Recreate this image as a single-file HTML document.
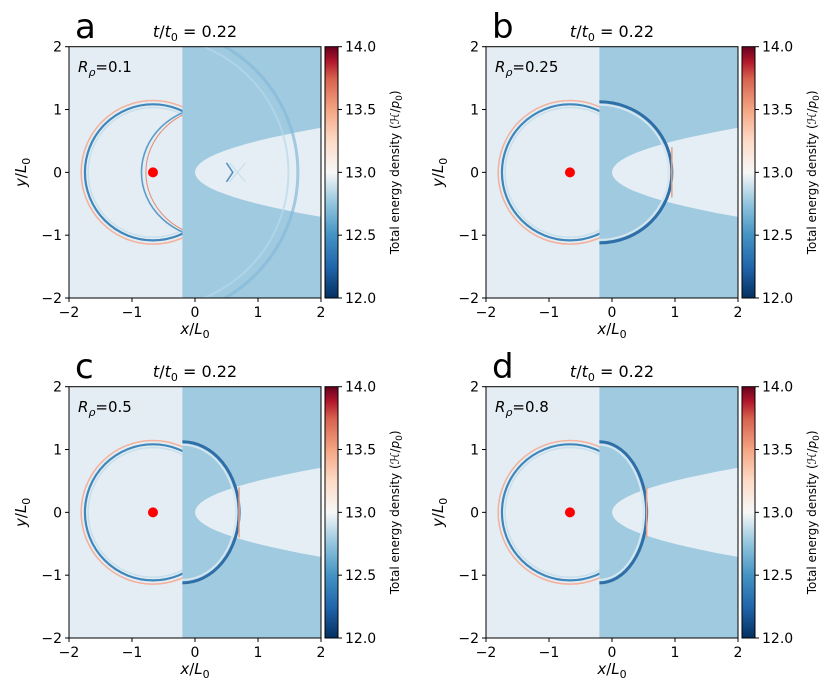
<!DOCTYPE html>
<html><head><meta charset="utf-8"><style>
html,body{margin:0;padding:0;background:#fff;width:830px;height:700px;overflow:hidden}
svg text{font-family:"DejaVu Sans","Liberation Sans",sans-serif;fill:#000}
</style></head><body>
<svg id="fig" width="830" height="700" viewBox="0 0 830 700" xmlns="http://www.w3.org/2000/svg">
<defs>
<linearGradient id="cmap" x1="0" y1="1" x2="0" y2="0">
<stop offset="0" stop-color="#053061"/><stop offset="0.125" stop-color="#2166ac"/>
<stop offset="0.25" stop-color="#4393c3"/><stop offset="0.375" stop-color="#92c5de"/>
<stop offset="0.5" stop-color="#f7f7f7"/><stop offset="0.625" stop-color="#fddbc7"/>
<stop offset="0.75" stop-color="#f4a582"/><stop offset="0.875" stop-color="#d6604d"/>
<stop offset="0.94" stop-color="#b2182b"/><stop offset="1" stop-color="#67001f"/>
</linearGradient>
</defs>
</svg>
<script>
const panelLetters=['a','b','c','d'];
const rhoValues=['0.1','0.25','0.5','0.8'];
const transmitX=[null,0.95,0.7,0.55];
const timeLabel='0.22';
const axisTicks=[-2,-1,0,1,2];
const cbTicks=['12.0','12.5','13.0','13.5','14.0'];
const cbMin=12, cbMax=14;
const sourceX=-0.667, interfaceX=-0.2, parabolaTipX=0.0, parabolaHalfWidthAtEdge=0.71;
const offsets=[[0,0],[417,0],[0,340],[417,340]];
const NS='http://www.w3.org/2000/svg';
const svg=document.getElementById('fig');
function mk(tag,attrs,parent){const e=document.createElementNS(NS,tag);for(const k in attrs)e.setAttribute(k,attrs[k]);(parent||svg).appendChild(e);return e;}
const L=69,R=321,T=46.7,B=298;
const X=x=>L+(x+2)*(R-L)/4, Y=y=>T+(2-y)*(B-T)/4, S=r=>r*(R-L)/4;
panelLetters.forEach((letter,i)=>{
  const [dx,dy]=offsets[i];
  const g=mk('g',{transform:`translate(${dx},${dy})`});
  
  
  const cid='clip'+i;
  const cp=mk('clipPath',{id:cid},g);mk('rect',{x:L,y:T,width:R-L,height:B-T},cp);
  const cpr=mk('clipPath',{id:cid+'r'},g);mk('rect',{x:X(interfaceX),y:T,width:R-X(interfaceX),height:B-T},cpr);
  const cpl=mk('clipPath',{id:cid+'l'},g);mk('rect',{x:L,y:T,width:X(interfaceX)-L,height:B-T},cpl);
  const plot=mk('g',{'clip-path':`url(#${cid})`},g);
  
  
  mk('rect',{x:L,y:T,width:R-L,height:B-T,fill:'#e3edf3'},plot);
  mk('rect',{x:X(interfaceX),y:T,width:R-X(interfaceX),height:B-T,fill:'#9fcae0'},plot);
  const k=(2-parabolaTipX)/(parabolaHalfWidthAtEdge**2);
  let d='';for(let y=-1.2;y<=1.2;y+=0.05){const x=parabolaTipX+k*y*y;d+=(d?'L':'M')+X(x).toFixed(1)+','+Y(y).toFixed(1);}
  const p=mk('path',{d,fill:'#e4eef4'},plot);
  
  
  const cx=X(sourceX),cy=Y(0);
  const left=mk('g',{'clip-path':`url(#${cid}l)`},plot);
  mk('circle',{cx,cy,r:S(1.14),fill:'none',stroke:'#f4b09a','stroke-width':1.5},left);
  mk('circle',{cx,cy,r:S(1.08),fill:'none',stroke:'#3f86bb','stroke-width':2.2},left);
  mk('circle',{cx,cy,r:S(1.03),fill:'none',stroke:'#c8dfec','stroke-width':1.5},left);
  const right=mk('g',{'clip-path':`url(#${cid}r)`},plot);
  if(transmitX[i]===null){
    mk('ellipse',{cx:X(0.3),cy,rx:S(1.15),ry:S(1.05),fill:'none',stroke:'#5b9dc9','stroke-width':1.6},left);
    mk('ellipse',{cx:X(0.32),cy,rx:S(1.1),ry:S(1.03),fill:'none',stroke:'#e58a70','stroke-width':1},left);
    mk('circle',{cx,cy,r:S(2.3),fill:'none',stroke:'#86b9d8','stroke-width':3,opacity:0.7},right);
    mk('circle',{cx,cy,r:S(2.15),fill:'none',stroke:'#b8d8ea','stroke-width':2,opacity:0.7},right);
    mk('path',{d:`M${X(0.5)},${Y(0.15)}L${X(0.6)},${Y(0)}L${X(0.5)},${Y(-0.15)}`,fill:'none',stroke:'#4d8fc0','stroke-width':1.5},plot);
    mk('path',{d:`M${X(0.55)},${Y(0.15)}L${X(0.8)},${Y(-0.15)}M${X(0.55)},${Y(-0.15)}L${X(0.8)},${Y(0.15)}`,fill:'none',stroke:'#c5dcea','stroke-width':1},plot);
  } else {
    const tx=transmitX[i];
    mk('ellipse',{cx:X(interfaceX),cy,rx:S(tx-interfaceX),ry:S(1.12),fill:'none',stroke:'#2f6fa8','stroke-width':3},right);
    mk('ellipse',{cx:X(interfaceX),cy,rx:S(tx-interfaceX)-3,ry:S(1.12)-3,fill:'none',stroke:'#d4e6f0','stroke-width':2},right);
    mk('line',{x1:X(tx),y1:Y(0.4),x2:X(tx),y2:Y(-0.4),stroke:'#e8a088','stroke-width':1.5},plot);
  }
  const dot=mk('circle',{cx,cy,r:5,fill:'#ff0000'},g);
  
  
  mk('rect',{x:L,y:T,width:R-L,height:B-T,fill:'none',stroke:'#000','stroke-width':1},g);
  axisTicks.forEach(t=>{
    mk('line',{x1:X(t),y1:B,x2:X(t),y2:B+4,stroke:'#000'},g);
    const tx=mk('text',{x:X(t),y:B+19,'text-anchor':'middle','font-size':14},g);tx.textContent=t<0?'\u2212'+(-t):t;
    
    
    mk('line',{x1:L-4,y1:Y(t),x2:L,y2:Y(t),stroke:'#000'},g);
    const ty=mk('text',{x:L-7,y:Y(t)+5,'text-anchor':'end','font-size':14},g);ty.textContent=t<0?'\u2212'+(-t):t;
    
    
  });
  const xl=mk('text',{x:(L+R)/2,y:B+36,'text-anchor':'middle','font-size':15},g);
  xl.innerHTML='<tspan font-style="italic">x</tspan>/<tspan font-style="italic">L</tspan><tspan font-size="11" dy="4">0</tspan>';
  
  
  const yl=mk('text',{transform:`translate(26,${(T+B)/2}) rotate(-90)`,'text-anchor':'middle','font-size':15},g);
  yl.innerHTML='<tspan font-style="italic">y</tspan>/<tspan font-style="italic">L</tspan><tspan font-size="11" dy="4">0</tspan>';
  
  
  const tt=mk('text',{x:(L+R)/2,y:37,'text-anchor':'middle','font-size':16},g);
  tt.innerHTML='<tspan font-style="italic">t</tspan>/<tspan font-style="italic">t</tspan><tspan font-size="11" dy="4">0</tspan><tspan dy="-4"> = '+timeLabel+'</tspan>';
  
  
  const pl=mk('text',{x:75,y:38,'font-size':34},g);pl.textContent=letter;
  
  
  const rl=mk('text',{x:78,y:72,'font-size':15},g);
  rl.innerHTML='<tspan font-style="italic">R</tspan><tspan font-style="italic" font-size="11" dy="4">ρ</tspan><tspan dy="-4">='+rhoValues[i]+'</tspan>';
  
  
  const cb=mk('rect',{x:325,y:T,width:13,height:B-T,fill:'url(#cmap)',stroke:'#000','stroke-width':1},g);
  
  
  cbTicks.forEach(v=>{
    const yy=B-(parseFloat(v)-cbMin)/(cbMax-cbMin)*(B-T);
    mk('line',{x1:338,y1:yy,x2:342,y2:yy,stroke:'#000'},g);
    const ct=mk('text',{x:345,y:yy+5,'font-size':14},g);ct.textContent=v;
    
    
  });
  const cl=mk('text',{transform:`translate(399,${(T+B)/2}) rotate(-90)`,'text-anchor':'middle','font-size':12},g);
  cl.innerHTML='Total energy density (<tspan font-style="italic">ℋ</tspan>/<tspan font-style="italic">p</tspan><tspan font-size="9" dy="3">0</tspan><tspan dy="-3">)</tspan>';
  
  
});
</script>
</body></html>
